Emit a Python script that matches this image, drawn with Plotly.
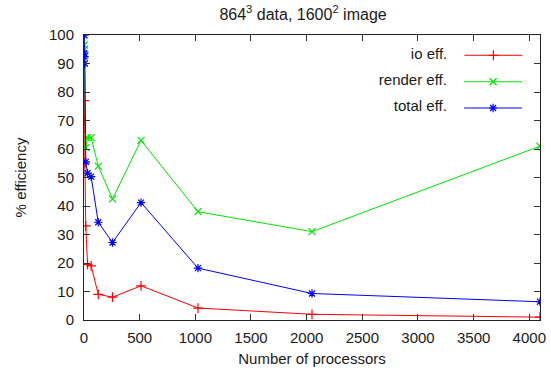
import plotly.graph_objects as go

procs = [1, 2, 4, 8, 16, 32, 64, 128, 256, 512, 1024, 2048, 4096]
io_eff = [100, 77, 70, 55, 33, 19.5, 19, 9, 8, 12, 4.2, 2, 1]
render_eff = [100, 96.5, 95, 93, 60.5, 64, 64, 54, 42.5, 63, 38, 31, 61]
total_eff = [100, 93.6, 92.4, 90, 55.5, 51.5, 50.3, 34.3, 27.2, 41.2, 18.2, 9.3, 6.4]

series_names = ["io eff.", "render eff.", "total eff."]
series_vals = [io_eff, render_eff, total_eff]
colors = ["#ff0000", "#00e600", "#0000ff"]
symbols = ["cross-thin-open", "x-thin-open", "asterisk-open"]
legend_ids = ["legend", "legend2", "legend3"]

x_ticks = list(range(0, 4001, 500))
y_ticks = list(range(0, 101, 10))

FONT = "Liberation Sans, Arial, Helvetica, sans-serif"
TXT = "#1a1a1a"
FS = 15

fig = go.Figure()
for name, vals, c, s, lg in zip(series_names, series_vals, colors, symbols, legend_ids):
    fig.add_trace(go.Scatter(
        x=procs, y=vals, mode="lines+markers", name=" ",
        line=dict(color=c, width=1),
        marker=dict(symbol=s, size=7, color=c, line=dict(color=c, width=1.2)),
        legend=lg, showlegend=True,
    ))

leg_common = dict(
    xanchor="right", yanchor="middle", x=0.993,
    bgcolor="rgba(0,0,0,0)", borderwidth=0,
    font=dict(family=FONT, size=FS, color=TXT),
    itemwidth=58, itemclick=False, itemdoubleclick=False,
)
ys = [0.928, 0.835, 0.743]
layout_legends = {}
for lg, name, y in zip(legend_ids, series_names, ys):
    d = dict(leg_common)
    d["y"] = y
    d["title"] = dict(text=name + " ", side="left", font=dict(family=FONT, size=FS, color=TXT))
    layout_legends[lg] = d

axis_common = dict(
    ticks="inside", ticklen=6, tickcolor="#333", tickwidth=1,
    showline=True, linecolor="#222", linewidth=1, mirror="allticks",
    showgrid=False, zeroline=False, automargin=False,
    tickfont=dict(family=FONT, size=FS, color=TXT),
)

fig.update_layout(
    width=551, height=368,
    margin=dict(l=84, r=11, t=35, b=48),
    paper_bgcolor="white", plot_bgcolor="white",
    font=dict(family=FONT, size=FS, color=TXT),
    title=dict(text="864<sup>3</sup> data, 1600<sup>2</sup> image", x=0.55, xref="container",
               xanchor="center", y=0.962, yref="container", yanchor="middle",
               font=dict(family=FONT, size=16, color=TXT)),
    xaxis=dict(
        range=[0, 4096], tickvals=x_ticks, ticktext=[str(v) for v in x_ticks],
        ticklabelstandoff=4,
        title=dict(text="Number of processors", standoff=8, font=dict(family=FONT, size=FS, color=TXT)),
        **axis_common,
    ),
    yaxis=dict(
        range=[0, 100], tickvals=y_ticks, ticktext=[str(v) for v in y_ticks],
        ticklabelstandoff=6,
        title=dict(text="% efficiency", standoff=18, font=dict(family=FONT, size=FS, color=TXT)),
        **axis_common,
    ),
    **layout_legends,
)

fig.write_html("out.html", config={"displayModeBar": False},
               post_script="document.body.style.margin='0';")
